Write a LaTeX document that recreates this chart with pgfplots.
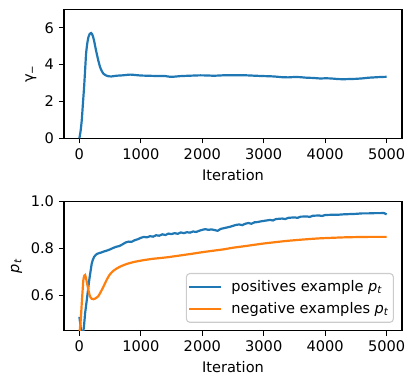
\documentclass[border=0pt]{standalone}
\usepackage{pgfplots}
\pgfplotsset{compat=1.18}
\usepackage{fontspec}
\setmainfont{DejaVu Sans}
\definecolor{tabblue}{HTML}{1F77B4}
\definecolor{taborange}{HTML}{FF7F0E}
\newcommand{\fs}{\fontsize{10.5bp}{12.6bp}\selectfont}
\pgfplotsset{
  every axis/.append style={
    scale only axis,
    width=243.4bp, height=92.8bp,
    xmin=-250, xmax=5250,
    axis line style={line width=0.84bp},
    tick style={line width=0.84bp, black},
    tick align=outside,
    major tick length=3.7bp,
    tick pos=left,
    xtick={0,1000,2000,3000,4000,5000},
    scaled x ticks=false,
    /pgf/number format/assume math mode=true,
    /pgf/number format/set thousands separator={},
    ticklabel style={font=\fs},
    label style={font=\fs},
    xlabel={Iteration},
    xlabel style={at={(axis description cs:0.5,-0.285)}, anchor=center},
  }
}
\begin{document}
\begin{tikzpicture}
\path[use as bounding box] (-46.1bp,-174.7bp) rectangle (250.6bp,99.6bp);
\begin{axis}[
  at={(0,0)}, anchor=south west,
  ymin=0, ymax=7, ytick={0,2,4,6},
  ylabel={γ\textsubscript{−}},
  ylabel style={at={(axis description cs:-0.098,0.5)}, anchor=center},
]
\addplot[tabblue, line width=1.58bp, smooth, tension=0.4] coordinates {
(0,0) (20,0.4) (39,0.99) (60,2.0) (77,2.79) (95,3.8) (109,4.59) (128,5.15) (147,5.49) (170,5.68) (191,5.72) (215,5.6) (239,5.31) (260,4.95) (283,4.59) (310,4.2) (337,3.87) (365,3.65) (391,3.51) (430,3.42) (472,3.37) (520,3.36) (609,3.4) (700,3.42) (826,3.46) (900,3.44) (1000,3.41) (1100,3.40) (1200,3.39) (1300,3.38) (1400,3.38) (1477,3.34) (1550,3.35) (1650,3.38) (1800,3.40) (1966,3.42) (2100,3.41) (2200,3.40) (2400,3.43) (2550,3.42) (2726,3.42) (2850,3.40) (3000,3.38) (3106,3.37) (3200,3.35) (3300,3.32) (3400,3.31) (3500,3.33) (3600,3.32) (3700,3.29) (3800,3.28) (3920,3.25) (4000,3.26) (4100,3.25) (4200,3.22) (4300,3.21) (4400,3.22) (4500,3.23) (4621,3.26) (4700,3.29) (4800,3.31) (4900,3.33) (5000,3.34)
};
\end{axis}
\begin{axis}[
  at={(0,-138.4bp)}, anchor=south west,
  ymin=0.452, ymax=1.0, ytick={0.6,0.8,1.0},
  yticklabel style={/pgf/number format/fixed, /pgf/number format/fixed zerofill, /pgf/number format/precision=1},
  ylabel={\itshape p\textsubscript{\itshape t}},
  ylabel style={at={(axis description cs:-0.1405,0.5)}, anchor=center},
  legend cell align=left,
  legend image code/.code={\draw[#1] (0bp,0bp) -- (23bp,0bp);},
  legend style={at={(1,0)}, anchor=south east, xshift=-5.8bp, yshift=5.5bp,
    draw=black!20, line width=0.8bp, rounded corners=2.5bp, fill=white, fill opacity=0.8, text opacity=1,
    font=\fs, inner xsep=1.4bp, inner ysep=2.7bp,
    row sep=2.8bp, column sep=4.4bp},
]
\addplot[tabblue, line width=1.58bp] coordinates {
(0,0.51) (15,0.48) (30,0.44) (55,0.43) (75,0.47) (93,0.525) (120,0.58) (147,0.638) (165,0.675) (185,0.709) (200,0.735) (218,0.752) (240,0.765) (265,0.773) (290,0.778) (320,0.781) (350,0.783) (400,0.788) (450,0.792) (500,0.797) (550,0.803) (600,0.808) (650,0.811) (700,0.818) (750,0.826) (800,0.830) (850,0.829) (900,0.836) (950,0.840) (1000,0.846) (1050,0.850) (1100,0.848) (1150,0.853) (1200,0.851) (1250,0.857) (1300,0.855) (1350,0.861) (1400,0.858) (1450,0.864) (1500,0.862) (1550,0.866) (1600,0.863) (1650,0.869) (1700,0.866) (1750,0.870) (1800,0.868) (1850,0.873) (1900,0.871) (1950,0.876) (2000,0.880) (2050,0.883) (2100,0.880) (2150,0.882) (2200,0.879) (2250,0.876) (2300,0.884) (2350,0.887) (2400,0.890) (2450,0.893) (2500,0.897) (2550,0.901) (2600,0.903) (2650,0.900) (2700,0.906) (2750,0.909) (2800,0.906) (2850,0.912) (2900,0.913) (2950,0.916) (3000,0.918) (3100,0.922) (3150,0.920) (3200,0.926) (3300,0.928) (3350,0.926) (3400,0.931) (3500,0.933) (3550,0.931) (3600,0.936) (3700,0.937) (3750,0.935) (3800,0.940) (3900,0.941) (3950,0.939) (4000,0.943) (4100,0.944) (4200,0.944) (4300,0.946) (4400,0.947) (4500,0.948) (4600,0.950) (4700,0.950) (4800,0.951) (4900,0.951) (4950,0.952) (5000,0.946)
};
\addlegendentry{positives example \itshape p\textsubscript{\itshape t}}
\addplot[taborange, line width=1.58bp, smooth, tension=0.4] coordinates {
(0,0.44) (20,0.49) (39,0.568) (52,0.62) (65,0.667) (80,0.685) (93,0.688) (110,0.672) (130,0.646) (150,0.62) (174,0.596) (200,0.587) (228,0.585) (260,0.588) (290,0.594) (309,0.598) (350,0.617) (391,0.638) (440,0.665) (489,0.688) (554,0.706) (650,0.722) (772,0.735) (900,0.744) (1042,0.751) (1200,0.757) (1314,0.760) (1450,0.764) (1612,0.770) (1800,0.777) (2000,0.785) (2200,0.792) (2345,0.797) (2500,0.804) (2700,0.811) (2834,0.816) (3000,0.822) (3200,0.828) (3378,0.833) (3600,0.838) (3800,0.842) (3920,0.844) (4100,0.846) (4300,0.848) (4463,0.849) (4700,0.850) (5000,0.850)
};
\addlegendentry{negative examples \itshape p\textsubscript{\itshape t}}
\end{axis}
\end{tikzpicture}
\end{document}
